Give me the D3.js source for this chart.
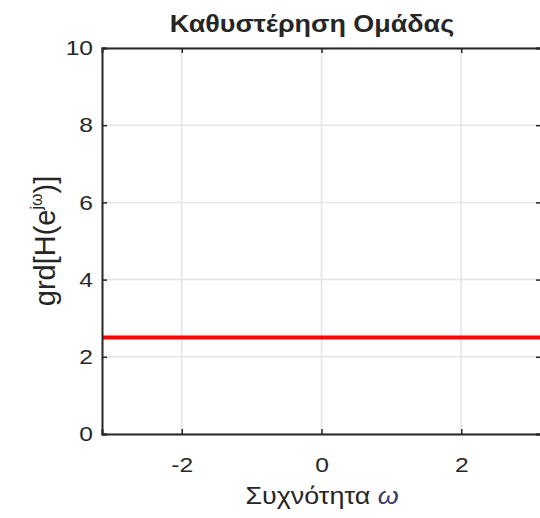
<!DOCTYPE html>
<html>
<head>
<meta charset="utf-8">
<script src="https://cdn.jsdelivr.net/npm/d3@7"></script>
<style>
  html, body { margin: 0; padding: 0; background: #ffffff; }
  svg { display: block; }
  text { font-family: "Liberation Sans", Arial, sans-serif; fill: #262626; }
</style>
</head>
<body>
<svg id="chart" width="540" height="518"></svg>
<script>
// Group delay of a linear-phase filter, sampled over one period of ω
const omega = [-3.1416, 3.1416];
const groupDelay = [2.5, 2.5];

const xTicks = [-2, 0, 2];
const yTicks = [0, 2, 4, 6, 8, 10];
const xDomain = [-3.1416, 3.1416];
const yDomain = [0, 10];

const titleText = "Καθυστέρηση Ομάδας";
const xLabelText = "Συχνότητα ";
const xLabelSymbol = "ω";

const m = { left: 102, right: 541, top: 48, bottom: 434 };
const wide = 1.17; // horizontal widening of horizontal text

const svg = d3.select("#chart");

const x = d3.scaleLinear().domain(xDomain).range([m.left, m.right]);
const y = d3.scaleLinear().domain(yDomain).range([m.bottom, m.top]);

// grid
const grid = svg.append("g").attr("stroke", "#e4e4e4").attr("stroke-width", 1.5);
grid.selectAll("line.gx").data(xTicks).join("line")
  .attr("x1", d => x(d)).attr("x2", d => x(d))
  .attr("y1", m.top).attr("y2", m.bottom);
grid.selectAll("line.gy").data(yTicks).join("line")
  .attr("x1", m.left).attr("x2", m.right)
  .attr("y1", d => y(d)).attr("y2", d => y(d));

// data line
const line = d3.line().x((d, i) => x(omega[i])).y(d => y(d));
svg.append("path")
  .datum(groupDelay)
  .attr("fill", "none")
  .attr("stroke", "#ff0000")
  .attr("stroke-width", 4)
  .attr("d", line);

// axes (ticks pointing inward, boxed)
const tickLen = 5;
const axisColor = "#262626";
const fmt = d => String(d);

const bottomAxis = svg.append("g")
  .attr("transform", `translate(0,${m.bottom})`)
  .call(d3.axisBottom(x).tickValues(xTicks).tickSize(-tickLen).tickPadding(23).tickFormat(fmt));
const topAxis = svg.append("g")
  .attr("transform", `translate(0,${m.top})`)
  .call(d3.axisTop(x).tickValues(xTicks).tickSize(-tickLen).tickFormat(""));
const leftAxis = svg.append("g")
  .attr("transform", `translate(${m.left},0)`)
  .call(d3.axisLeft(y).tickValues(yTicks).tickSize(-tickLen).tickPadding(9).tickFormat(fmt));
const rightAxis = svg.append("g")
  .attr("transform", `translate(${m.right},0)`)
  .call(d3.axisRight(y).tickValues(yTicks).tickSize(-tickLen).tickFormat(""));

[bottomAxis, topAxis, leftAxis, rightAxis].forEach(g => {
  g.select(".domain").attr("stroke", axisColor).attr("stroke-width", 2);
  g.selectAll(".tick line").attr("stroke", axisColor).attr("stroke-width", 1.5);
  g.selectAll(".tick text")
    .attr("font-family", "Liberation Sans, Arial, sans-serif")
    .attr("font-size", 21)
    .attr("fill", "#262626")
    .each(function () {
      const len = this.getComputedTextLength();
      if (len > 0) {
        d3.select(this).attr("textLength", len * wide).attr("lengthAdjust", "spacingAndGlyphs");
      }
    });
});

// title
const title = svg.append("text")
  .attr("x", 312).attr("y", 32)
  .attr("text-anchor", "middle")
  .attr("font-size", 23)
  .attr("font-weight", "bold")
  .attr("fill", "#111")
  .text(titleText);
title.attr("textLength", title.node().getComputedTextLength() * wide)
  .attr("lengthAdjust", "spacingAndGlyphs");

// x label
const xl = svg.append("text")
  .attr("x", 322).attr("y", 504)
  .attr("text-anchor", "middle")
  .attr("font-size", 24);
xl.append("tspan").text(xLabelText);
xl.append("tspan").attr("font-style", "italic").attr("fill", "#3a3a6a").text(xLabelSymbol);
xl.attr("textLength", xl.node().getComputedTextLength() * 1.12)
  .attr("lengthAdjust", "spacingAndGlyphs");

// y label
const yl = svg.append("text")
  .attr("transform", `translate(55,${(m.top + m.bottom) / 2}) rotate(-90)`)
  .attr("text-anchor", "middle")
  .attr("font-size", 29);
yl.append("tspan").text("grd[H(e");
yl.append("tspan").attr("font-size", 16).attr("dy", -13).text("jω");
yl.append("tspan").attr("dy", 13).text(")]");
</script>
</body>
</html>
